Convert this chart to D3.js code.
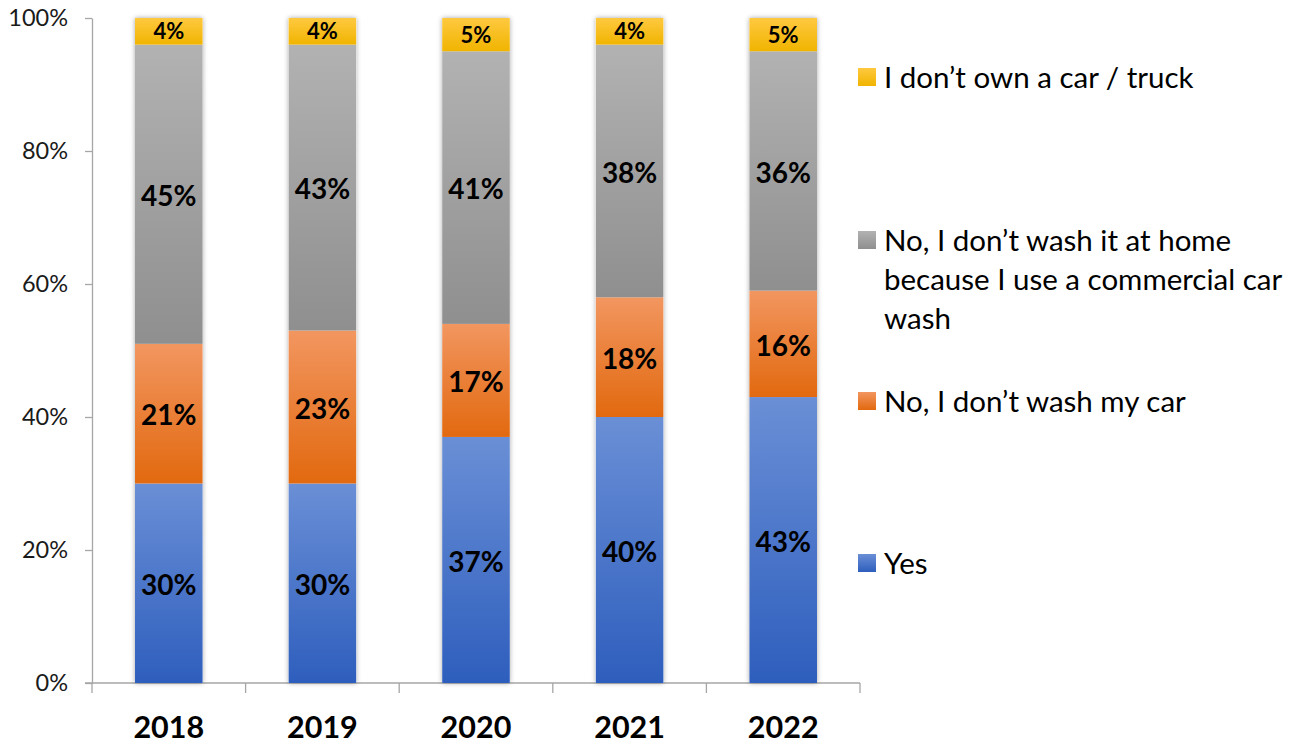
<!DOCTYPE html>
<html>
<head>
<meta charset="utf-8">
<script src="https://cdn.jsdelivr.net/npm/d3@7"></script>
<style>
  html, body { margin: 0; padding: 0; background: #fff; }
  svg { display: block; font-family: Lato, "Open Sans", sans-serif; }
</style>
</head>
<body>
<svg id="chart" width="1302" height="746"></svg>
<script>
// Survey years on the x axis
const years = ["2018", "2019", "2020", "2021", "2022"];

// Share of respondents (%) per answer, stacked bottom to top
const yes        = [30, 30, 37, 40, 43];
const noWash     = [21, 23, 17, 18, 16];
const commercial = [45, 43, 41, 38, 36];
const noCar      = [4, 4, 5, 4, 5];

const yTicks = [0, 20, 40, 60, 80, 100];

const seriesDefs = [
  { key: "yes",        values: yes,        top: "#6a8fd6", bottom: "#2e5ebd", legend: ["Yes"] },
  { key: "noWash",     values: noWash,     top: "#f29660", bottom: "#e2690f", legend: ["No, I don\u2019t wash my car"] },
  { key: "commercial", values: commercial, top: "#b2b2b2", bottom: "#8f8f8f", legend: ["No, I don\u2019t wash it at home", "because I use a commercial car", "wash"] },
  { key: "noCar",      values: noCar,      top: "#ffc940", bottom: "#f0b400", legend: ["I don\u2019t own a car / truck"] }
];

const rows = years.map((yr, i) => {
  const r = { year: yr };
  seriesDefs.forEach(s => r[s.key] = s.values[i]);
  return r;
});

const svg = d3.select("#chart");
const margin = { left: 92, right: 442, top: 18, bottom: 63 };
const width = 1302, height = 746;

const x = d3.scaleBand().domain(years)
  .range([margin.left, width - margin.right])
  .paddingInner(0.56).paddingOuter(0.28);
const y = d3.scaleLinear().domain([0, 100]).range([height - margin.bottom, margin.top]);

const defs = svg.append("defs");
seriesDefs.forEach(s => {
  const g = defs.append("linearGradient").attr("id", "grad-" + s.key)
    .attr("x1", 0).attr("y1", 0).attr("x2", 0).attr("y2", 1);
  g.append("stop").attr("offset", "0%").attr("stop-color", s.top);
  g.append("stop").attr("offset", "100%").attr("stop-color", s.bottom);
});
const shadow = defs.append("filter").attr("id", "shadow")
  .attr("x", "-20%").attr("y", "-5%").attr("width", "140%").attr("height", "110%");
shadow.append("feDropShadow").attr("dx", 0).attr("dy", 0)
  .attr("stdDeviation", 2.5).attr("flood-color", "#000").attr("flood-opacity", 0.35);

// Y axis
const yAxis = svg.append("g")
  .attr("transform", `translate(${margin.left},0)`)
  .call(d3.axisLeft(y).tickValues(yTicks).tickFormat(d => d + "%").tickSize(7).tickSizeOuter(0));
yAxis.select(".domain").attr("stroke", "#a6a6a6").attr("stroke-width", 1.3);
yAxis.selectAll(".tick line").attr("stroke", "#a6a6a6").attr("stroke-width", 1.3);
yAxis.selectAll(".tick text").attr("font-size", 23.5).attr("fill", "#1a1a1a")
  .attr("x", -24).attr("font-family", "Lato, sans-serif");

// X axis baseline with boundary ticks between categories
const xAxisG = svg.append("g");
const x0 = margin.left, x1 = width - margin.right;
const yBase = y(0);
xAxisG.append("line").attr("x1", x0 - 7).attr("x2", x1).attr("y1", yBase).attr("y2", yBase)
  .attr("stroke", "#a6a6a6").attr("stroke-width", 1.3);
const step = x.step();
const bounds = d3.range(years.length + 1).map(i => x0 + i * step);
xAxisG.selectAll("line.bound").data(bounds).join("line").attr("class", "bound")
  .attr("x1", d => d).attr("x2", d => d).attr("y1", yBase).attr("y2", yBase + 10)
  .attr("stroke", "#a6a6a6").attr("stroke-width", 1.3);
xAxisG.selectAll("text").data(years).join("text")
  .attr("x", d => x(d) + x.bandwidth() / 2).attr("y", 738)
  .attr("text-anchor", "middle").attr("font-size", 30.5).attr("font-weight", 700)
  .attr("fill", "#000").text(d => d);

// Stacked bars
const stack = d3.stack().keys(seriesDefs.map(s => s.key));
const stacked = stack(rows);

const barGroup = svg.append("g");
// shadow layer under each full bar
barGroup.selectAll("rect.shadow").data(rows).join("rect").attr("class", "shadow")
  .attr("x", d => x(d.year)).attr("width", x.bandwidth())
  .attr("y", y(100)).attr("height", y(0) - y(100))
  .attr("fill", "#fff").attr("filter", "url(#shadow)");

stacked.forEach((layer, li) => {
  const s = seriesDefs[li];
  const g = barGroup.append("g");
  g.selectAll("rect").data(layer).join("rect")
    .attr("x", d => x(d.data.year)).attr("width", x.bandwidth())
    .attr("y", d => y(d[1])).attr("height", d => y(d[0]) - y(d[1]))
    .attr("fill", `url(#grad-${s.key})`);
  g.selectAll("text").data(layer).join("text")
    .attr("x", d => x(d.data.year) + x.bandwidth() / 2)
    .attr("y", d => (y(d[0]) + y(d[1])) / 2)
    .attr("dy", s.key === "noCar" ? "0.36em" : "0.42em")
    .attr("text-anchor", "middle")
    .attr("font-size", s.key === "noCar" ? 22 : 28)
    .attr("font-weight", 700).attr("fill", "#000")
    .text(d => (d[1] - d[0]) + "%");
});

// Legend
const legendItems = [
  { s: seriesDefs[3], y: 77 },
  { s: seriesDefs[2], y: 240 },
  { s: seriesDefs[1], y: 401 },
  { s: seriesDefs[0], y: 563 }
];
const lg = svg.append("g");
legendItems.forEach(it => {
  lg.append("rect").attr("x", 858).attr("y", it.y - 9).attr("width", 18).attr("height", 18)
    .attr("fill", `url(#grad-${it.s.key})`);
  const t = lg.append("text").attr("x", 884).attr("y", it.y)
    .attr("font-size", 29.5).attr("fill", "#000");
  it.s.legend.forEach((line, i) => {
    t.append("tspan").attr("x", 884).attr("dy", i === 0 ? "0.36em" : 39).text(line);
  });
});
</script>
</body>
</html>
